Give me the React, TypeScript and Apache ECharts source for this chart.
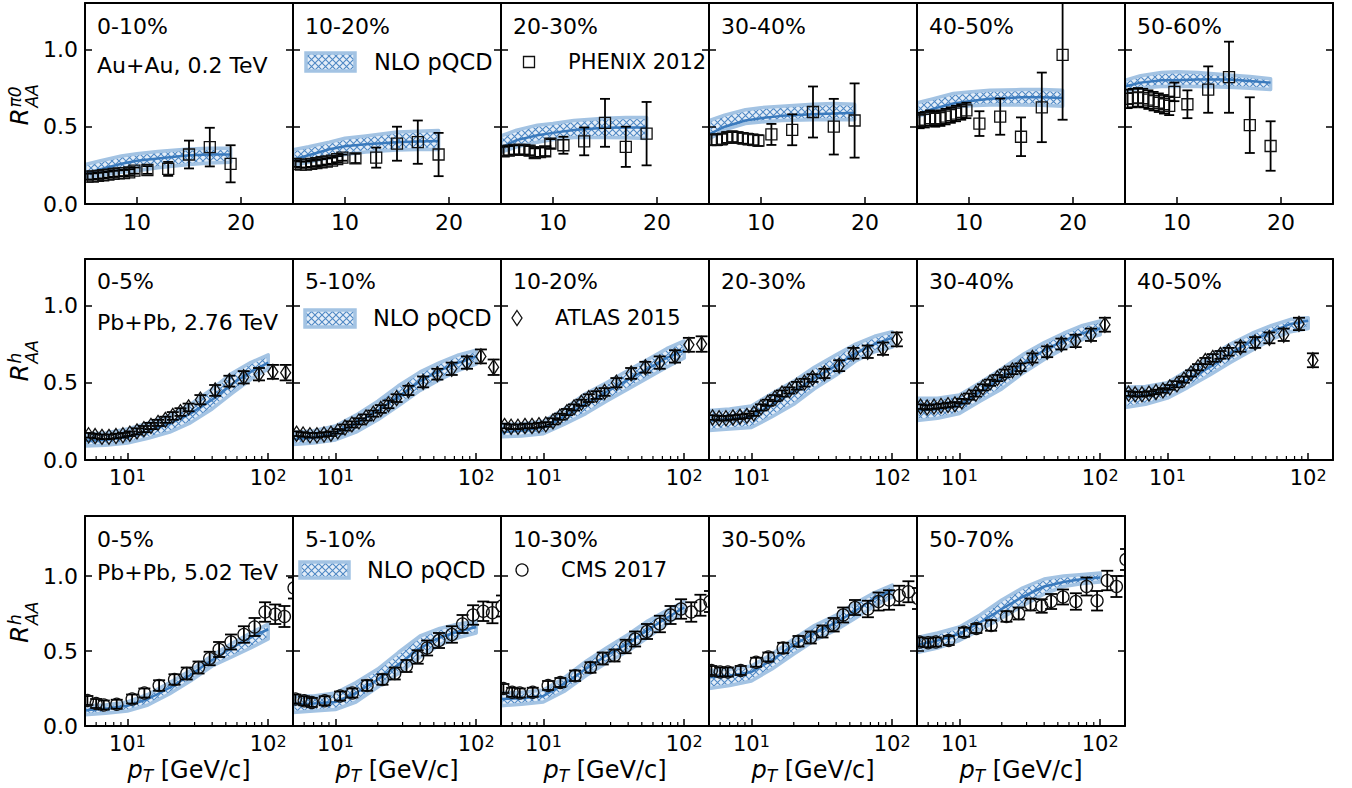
import React, { useEffect, useRef } from "react";
import * as echarts from "echarts";

const FONT = '"DejaVu Sans", "Liberation Sans", sans-serif';

// ================= Row 1 : Au+Au 0.2 TeV, PHENIX 2012 (pi0) =================
const rhicCentralities = ["0-10%", "10-20%", "20-30%", "30-40%", "40-50%", "50-60%"];
const rhicTickValues = [10, 20];
const phenixPt = [5.25, 5.75, 6.25, 6.75, 7.25, 7.75, 8.25, 8.75, 9.25, 9.75, 11, 13, 15, 17, 19];

const phenix_0_10 = [0.177, 0.178, 0.182, 0.186, 0.19, 0.195, 0.198, 0.2, 0.205, 0.216, 0.22, 0.227, 0.32, 0.368, 0.26];
const phenixErr_0_10 = [0.02, 0.02, 0.02, 0.02, 0.02, 0.02, 0.02, 0.02, 0.02, 0.02, 0.025, 0.045, 0.09, 0.125, 0.12];
const phenix_10_20 = [0.26, 0.255, 0.255, 0.26, 0.265, 0.27, 0.275, 0.28, 0.29, 0.3, 0.295, 0.3, 0.39, 0.4, 0.32];
const phenixErr_10_20 = [0.02, 0.02, 0.02, 0.02, 0.02, 0.02, 0.02, 0.02, 0.02, 0.02, 0.03, 0.065, 0.11, 0.14, 0.14];
const phenix_20_30 = [0.34, 0.345, 0.35, 0.35, 0.35, 0.345, 0.33, 0.335, 0.34, 0.39, 0.38, 0.405, 0.525, 0.37, 0.455];
const phenixErr_20_30 = [0.03, 0.03, 0.03, 0.03, 0.03, 0.03, 0.03, 0.03, 0.03, 0.03, 0.055, 0.09, 0.155, 0.13, 0.205];
const phenix_30_40 = [0.415, 0.415, 0.42, 0.43, 0.435, 0.43, 0.425, 0.42, 0.415, 0.41, 0.45, 0.48, 0.595, 0.5, 0.54];
const phenixErr_30_40 = [0.035, 0.035, 0.035, 0.035, 0.035, 0.035, 0.035, 0.035, 0.035, 0.035, 0.068, 0.1, 0.165, 0.18, 0.24];
const phenix_40_50 = [0.54, 0.545, 0.555, 0.55, 0.555, 0.565, 0.575, 0.585, 0.595, 0.605, 0.52, 0.565, 0.435, 0.625, 0.965];
const phenixErr_40_50 = [0.05, 0.05, 0.05, 0.05, 0.05, 0.05, 0.05, 0.05, 0.05, 0.05, 0.08, 0.117, 0.125, 0.225, 0.42];
const phenix_50_60 = [0.68, 0.685, 0.69, 0.685, 0.675, 0.665, 0.655, 0.645, 0.635, 0.725, 0.645, 0.74, 0.82, 0.51, 0.375];
const phenixErr_50_60 = [0.06, 0.06, 0.06, 0.06, 0.06, 0.06, 0.06, 0.06, 0.06, 0.06, 0.09, 0.15, 0.23, 0.18, 0.16];

const nloRhicPt = [5, 6.5, 8.5, 10, 12, 15, 17, 19];
const nloRhicUp_0_10 = [0.255, 0.28, 0.31, 0.325, 0.34, 0.355, 0.36, 0.36];
const nloRhicMid_0_10 = [0.195, 0.225, 0.26, 0.28, 0.295, 0.315, 0.32, 0.32];
const nloRhicLo_0_10 = [0.17, 0.185, 0.205, 0.215, 0.235, 0.255, 0.265, 0.27];
const nloRhicUp_10_20 = [0.35, 0.37, 0.4, 0.425, 0.44, 0.465, 0.47, 0.475];
const nloRhicMid_10_20 = [0.287, 0.315, 0.354, 0.374, 0.387, 0.4, 0.405, 0.407];
const nloRhicLo_10_20 = [0.25, 0.27, 0.3, 0.32, 0.337, 0.35, 0.352, 0.352];
const nloRhicUp_20_30 = [0.44, 0.478, 0.51, 0.52, 0.54, 0.554, 0.56, 0.56];
const nloRhicMid_20_30 = [0.365, 0.413, 0.445, 0.46, 0.478, 0.493, 0.495, 0.495];
const nloRhicLo_20_30 = [0.335, 0.37, 0.4, 0.417, 0.43, 0.43, 0.428, 0.424];
const nloRhicUp_30_40 = [0.54, 0.575, 0.61, 0.623, 0.632, 0.645, 0.65, 0.645];
const nloRhicMid_30_40 = [0.45, 0.5, 0.54, 0.555, 0.57, 0.58, 0.585, 0.59];
const nloRhicLo_30_40 = [0.42, 0.48, 0.52, 0.53, 0.54, 0.545, 0.545, 0.545];
const nloRhicUp_40_50 = [0.655, 0.68, 0.715, 0.725, 0.735, 0.74, 0.74, 0.735];
const nloRhicMid_40_50 = [0.58, 0.615, 0.65, 0.665, 0.68, 0.69, 0.69, 0.685];
const nloRhicLo_40_50 = [0.565, 0.595, 0.625, 0.635, 0.64, 0.64, 0.638, 0.632];
const nloRhicUp_50_60 = [0.8, 0.83, 0.85, 0.855, 0.85, 0.835, 0.825, 0.81];
const nloRhicMid_50_60 = [0.76, 0.785, 0.8, 0.8, 0.805, 0.805, 0.795, 0.785];
const nloRhicLo_50_60 = [0.73, 0.75, 0.76, 0.762, 0.76, 0.755, 0.748, 0.74];

// ================= Row 2 : Pb+Pb 2.76 TeV, ATLAS 2015 (h) =================
const lhc276Centralities = ["0-5%", "5-10%", "10-20%", "20-30%", "30-40%", "40-50%"];
const atlasPt = [5.3, 5.9, 6.6, 7.4, 8.3, 9.3, 10.4, 11.7, 13.1, 14.7, 16.5, 18.6, 21.0, 23.8, 27.2, 33, 42, 53, 67, 86, 108, 133];
const atlasErr = [0.015, 0.015, 0.015, 0.015, 0.015, 0.015, 0.015, 0.02, 0.02, 0.02, 0.02, 0.02, 0.025, 0.025, 0.025, 0.03, 0.035, 0.035, 0.04, 0.04, 0.045, 0.05];
const atlas_0_5 = [0.16, 0.155, 0.15, 0.15, 0.155, 0.16, 0.17, 0.185, 0.2, 0.22, 0.24, 0.26, 0.285, 0.31, 0.34, 0.39, 0.45, 0.51, 0.535, 0.555, 0.57, 0.565];
const atlas_5_10 = [0.17, 0.165, 0.16, 0.16, 0.165, 0.17, 0.185, 0.21, 0.23, 0.25, 0.275, 0.3, 0.33, 0.36, 0.4, 0.45, 0.505, 0.555, 0.59, 0.63, 0.67, 0.6];
const atlas_10_20 = [0.22, 0.215, 0.215, 0.22, 0.22, 0.225, 0.23, 0.25, 0.28, 0.31, 0.34, 0.37, 0.4, 0.42, 0.44, 0.5, 0.56, 0.6, 0.63, 0.67, 0.745, 0.75];
const atlas_20_30 = [0.275, 0.27, 0.27, 0.275, 0.28, 0.285, 0.3, 0.34, 0.37, 0.4, 0.43, 0.45, 0.48, 0.5, 0.53, 0.56, 0.61, 0.69, 0.7, 0.72, 0.78];
const atlas_30_40 = [0.345, 0.34, 0.345, 0.35, 0.355, 0.36, 0.38, 0.41, 0.43, 0.47, 0.5, 0.53, 0.56, 0.58, 0.6, 0.66, 0.7, 0.75, 0.77, 0.81, 0.875];
const atlas_40_50 = [0.43, 0.425, 0.425, 0.43, 0.44, 0.45, 0.47, 0.49, 0.52, 0.56, 0.6, 0.64, 0.66, 0.68, 0.7, 0.73, 0.76, 0.79, 0.81, 0.88, 0.645];

const nloLhcPt = [5, 7, 10, 14, 20, 28, 40, 55, 75, 100];
const nlo276Up_0_5 = [0.17, 0.175, 0.2, 0.24, 0.29, 0.36, 0.46, 0.56, 0.63, 0.68];
const nlo276Mid_0_5 = [0.125, 0.13, 0.15, 0.185, 0.235, 0.3, 0.39, 0.49, 0.57, 0.63];
const nlo276Lo_0_5 = [0.09, 0.095, 0.11, 0.14, 0.18, 0.24, 0.33, 0.43, 0.52, 0.59];
const nlo276Up_5_10 = [0.18, 0.19, 0.22, 0.29, 0.38, 0.48, 0.57, 0.63, 0.68, 0.71];
const nlo276Mid_5_10 = [0.135, 0.145, 0.175, 0.235, 0.32, 0.41, 0.51, 0.58, 0.63, 0.67];
const nlo276Lo_5_10 = [0.1, 0.11, 0.13, 0.18, 0.26, 0.35, 0.45, 0.52, 0.58, 0.62];
const nlo276Up_10_20 = [0.23, 0.235, 0.25, 0.33, 0.43, 0.5, 0.58, 0.65, 0.72, 0.77];
const nlo276Mid_10_20 = [0.18, 0.19, 0.21, 0.28, 0.365, 0.44, 0.52, 0.59, 0.66, 0.71];
const nlo276Lo_10_20 = [0.15, 0.155, 0.17, 0.23, 0.3, 0.38, 0.46, 0.53, 0.6, 0.66];
const nlo276Up_20_30 = [0.32, 0.33, 0.35, 0.43, 0.51, 0.6, 0.68, 0.75, 0.8, 0.83];
const nlo276Mid_20_30 = [0.255, 0.265, 0.28, 0.36, 0.44, 0.53, 0.61, 0.69, 0.75, 0.79];
const nlo276Lo_20_30 = [0.19, 0.2, 0.21, 0.28, 0.36, 0.46, 0.55, 0.64, 0.7, 0.73];
const nlo276Up_30_40 = [0.4, 0.4, 0.42, 0.5, 0.59, 0.68, 0.76, 0.82, 0.87, 0.9];
const nlo276Mid_30_40 = [0.32, 0.33, 0.35, 0.44, 0.53, 0.62, 0.71, 0.77, 0.82, 0.85];
const nlo276Lo_30_40 = [0.255, 0.27, 0.3, 0.38, 0.46, 0.56, 0.65, 0.72, 0.78, 0.81];
const nlo276Up_40_50 = [0.47, 0.475, 0.5, 0.58, 0.67, 0.75, 0.82, 0.87, 0.91, 0.92];
const nlo276Mid_40_50 = [0.41, 0.42, 0.45, 0.52, 0.6, 0.69, 0.77, 0.83, 0.88, 0.9];
const nlo276Lo_40_50 = [0.34, 0.36, 0.4, 0.47, 0.55, 0.63, 0.71, 0.78, 0.83, 0.85];

// ================= Row 3 : Pb+Pb 5.02 TeV, CMS 2017 (h) =================
const lhc502Centralities = ["0-5%", "5-10%", "10-30%", "30-50%", "50-70%"];
const cmsPt = [5.2, 6.0, 6.8, 8.4, 10.8, 13.2, 16.8, 21.6, 26.4, 32.0, 38.4, 44.8, 54.4, 67.2, 80.0, 95.0, 112.2, 130.4, 152.5];
const cmsErr = [0.03, 0.03, 0.03, 0.03, 0.03, 0.03, 0.035, 0.035, 0.04, 0.04, 0.045, 0.05, 0.05, 0.055, 0.06, 0.065, 0.065, 0.07, 0.07];
const cms_0_5 = [0.17, 0.15, 0.14, 0.145, 0.18, 0.22, 0.27, 0.31, 0.35, 0.39, 0.45, 0.51, 0.56, 0.61, 0.66, 0.76, 0.745, 0.73, 0.92];
const cms_5_10 = [0.18, 0.168, 0.157, 0.168, 0.2, 0.22, 0.27, 0.31, 0.35, 0.4, 0.46, 0.52, 0.57, 0.61, 0.68, 0.74, 0.765, 0.755, 0.8];
const cms_10_30 = [0.25, 0.225, 0.22, 0.225, 0.27, 0.29, 0.335, 0.39, 0.45, 0.47, 0.53, 0.58, 0.63, 0.68, 0.74, 0.78, 0.76, 0.805, 0.83];
const cms_30_50 = [0.37, 0.36, 0.36, 0.37, 0.425, 0.46, 0.52, 0.565, 0.59, 0.63, 0.675, 0.74, 0.79, 0.78, 0.83, 0.84, 0.87, 0.895, 0.85];
const cms_50_70 = [0.56, 0.555, 0.56, 0.57, 0.625, 0.65, 0.67, 0.73, 0.75, 0.81, 0.8, 0.83, 0.86, 0.83, 0.93, 0.835, 0.97, 0.93, 1.11];

const nlo502Up_0_5 = [0.135, 0.14, 0.16, 0.21, 0.29, 0.37, 0.47, 0.55, 0.62, 0.68];
const nlo502Mid_0_5 = [0.105, 0.115, 0.135, 0.18, 0.255, 0.34, 0.44, 0.52, 0.59, 0.645];
const nlo502Lo_0_5 = [0.075, 0.085, 0.1, 0.14, 0.215, 0.3, 0.4, 0.46, 0.52, 0.58];
const nlo502Up_5_10 = [0.2, 0.2, 0.22, 0.29, 0.38, 0.49, 0.6, 0.65, 0.68, 0.7];
const nlo502Mid_5_10 = [0.145, 0.15, 0.16, 0.22, 0.31, 0.41, 0.52, 0.59, 0.63, 0.66];
const nlo502Lo_5_10 = [0.09, 0.1, 0.11, 0.16, 0.26, 0.35, 0.46, 0.54, 0.59, 0.62];
const nlo502Up_10_30 = [0.22, 0.225, 0.24, 0.32, 0.43, 0.52, 0.61, 0.7, 0.77, 0.83];
const nlo502Mid_10_30 = [0.18, 0.185, 0.2, 0.28, 0.38, 0.47, 0.55, 0.64, 0.72, 0.79];
const nlo502Lo_10_30 = [0.135, 0.145, 0.16, 0.23, 0.335, 0.42, 0.5, 0.59, 0.68, 0.76];
const nlo502Up_30_50 = [0.37, 0.38, 0.4, 0.48, 0.58, 0.67, 0.74, 0.82, 0.89, 0.94];
const nlo502Mid_30_50 = [0.325, 0.335, 0.36, 0.44, 0.54, 0.62, 0.69, 0.77, 0.85, 0.905];
const nlo502Lo_30_50 = [0.25, 0.27, 0.3, 0.38, 0.48, 0.57, 0.64, 0.72, 0.8, 0.86];
const nlo502Up_50_70 = [0.59, 0.62, 0.66, 0.74, 0.84, 0.92, 0.98, 1.0, 1.01, 1.02];
const nlo502Mid_50_70 = [0.54, 0.57, 0.615, 0.69, 0.78, 0.86, 0.93, 0.96, 0.98, 0.99];
const nlo502Lo_50_70 = [0.49, 0.52, 0.57, 0.64, 0.72, 0.8, 0.88, 0.93, 0.95, 0.96];

const logMinorTicks = [6, 7, 8, 9, 20, 30, 40, 50, 60, 70, 80, 90];

// ================= layout =================
const COL_LEFT0 = 85;
const COL_W = 208;
const ROWS = [
  { top: 3, height: 201, ymax: 1.3, sys: "Au+Au, 0.2 TeV", sup: "\u03c00", labelY: 26, sysY: 65, legendY: 62, x: [5, 25] },
  { top: 259, height: 201, ymax: 1.3, sys: "Pb+Pb, 2.76 TeV", sup: "h", labelY: 281, sysY: 322, legendY: 318, x: [5, 150] },
  { top: 516, height: 210, ymax: 1.4, sys: "Pb+Pb, 5.02 TeV", sup: "h", labelY: 539, sysY: 572, legendY: 570, x: [5, 150] },
];

const LINE_COLOR = "#3a7abd";
const EDGE_COLOR = "#a3c3e3";
const HATCH_COLOR = "#4f88c4";

type Panel = {
  row: number; col: number; cent: string;
  bx: number[]; up: number[]; mid: number[]; lo: number[];
  px: number[]; py: number[]; pe: number[]; marker: string;
};

const panels: Panel[] = [
  { row: 0, col: 0, cent: rhicCentralities[0], bx: nloRhicPt, up: nloRhicUp_0_10, mid: nloRhicMid_0_10, lo: nloRhicLo_0_10, px: phenixPt, py: phenix_0_10, pe: phenixErr_0_10, marker: "square" },
  { row: 0, col: 1, cent: rhicCentralities[1], bx: nloRhicPt, up: nloRhicUp_10_20, mid: nloRhicMid_10_20, lo: nloRhicLo_10_20, px: phenixPt, py: phenix_10_20, pe: phenixErr_10_20, marker: "square" },
  { row: 0, col: 2, cent: rhicCentralities[2], bx: nloRhicPt, up: nloRhicUp_20_30, mid: nloRhicMid_20_30, lo: nloRhicLo_20_30, px: phenixPt, py: phenix_20_30, pe: phenixErr_20_30, marker: "square" },
  { row: 0, col: 3, cent: rhicCentralities[3], bx: nloRhicPt, up: nloRhicUp_30_40, mid: nloRhicMid_30_40, lo: nloRhicLo_30_40, px: phenixPt, py: phenix_30_40, pe: phenixErr_30_40, marker: "square" },
  { row: 0, col: 4, cent: rhicCentralities[4], bx: nloRhicPt, up: nloRhicUp_40_50, mid: nloRhicMid_40_50, lo: nloRhicLo_40_50, px: phenixPt, py: phenix_40_50, pe: phenixErr_40_50, marker: "square" },
  { row: 0, col: 5, cent: rhicCentralities[5], bx: nloRhicPt, up: nloRhicUp_50_60, mid: nloRhicMid_50_60, lo: nloRhicLo_50_60, px: phenixPt, py: phenix_50_60, pe: phenixErr_50_60, marker: "square" },

  { row: 1, col: 0, cent: lhc276Centralities[0], bx: nloLhcPt, up: nlo276Up_0_5, mid: nlo276Mid_0_5, lo: nlo276Lo_0_5, px: atlasPt, py: atlas_0_5, pe: atlasErr, marker: "diamond" },
  { row: 1, col: 1, cent: lhc276Centralities[1], bx: nloLhcPt, up: nlo276Up_5_10, mid: nlo276Mid_5_10, lo: nlo276Lo_5_10, px: atlasPt, py: atlas_5_10, pe: atlasErr, marker: "diamond" },
  { row: 1, col: 2, cent: lhc276Centralities[2], bx: nloLhcPt, up: nlo276Up_10_20, mid: nlo276Mid_10_20, lo: nlo276Lo_10_20, px: atlasPt, py: atlas_10_20, pe: atlasErr, marker: "diamond" },
  { row: 1, col: 3, cent: lhc276Centralities[3], bx: nloLhcPt, up: nlo276Up_20_30, mid: nlo276Mid_20_30, lo: nlo276Lo_20_30, px: atlasPt, py: atlas_20_30, pe: atlasErr, marker: "diamond" },
  { row: 1, col: 4, cent: lhc276Centralities[4], bx: nloLhcPt, up: nlo276Up_30_40, mid: nlo276Mid_30_40, lo: nlo276Lo_30_40, px: atlasPt, py: atlas_30_40, pe: atlasErr, marker: "diamond" },
  { row: 1, col: 5, cent: lhc276Centralities[5], bx: nloLhcPt, up: nlo276Up_40_50, mid: nlo276Mid_40_50, lo: nlo276Lo_40_50, px: atlasPt, py: atlas_40_50, pe: atlasErr, marker: "diamond" },

  { row: 2, col: 0, cent: lhc502Centralities[0], bx: nloLhcPt, up: nlo502Up_0_5, mid: nlo502Mid_0_5, lo: nlo502Lo_0_5, px: cmsPt, py: cms_0_5, pe: cmsErr, marker: "circle" },
  { row: 2, col: 1, cent: lhc502Centralities[1], bx: nloLhcPt, up: nlo502Up_5_10, mid: nlo502Mid_5_10, lo: nlo502Lo_5_10, px: cmsPt, py: cms_5_10, pe: cmsErr, marker: "circle" },
  { row: 2, col: 2, cent: lhc502Centralities[2], bx: nloLhcPt, up: nlo502Up_10_30, mid: nlo502Mid_10_30, lo: nlo502Lo_10_30, px: cmsPt, py: cms_10_30, pe: cmsErr, marker: "circle" },
  { row: 2, col: 3, cent: lhc502Centralities[3], bx: nloLhcPt, up: nlo502Up_30_50, mid: nlo502Mid_30_50, lo: nlo502Lo_30_50, px: cmsPt, py: cms_30_50, pe: cmsErr, marker: "circle" },
  { row: 2, col: 4, cent: lhc502Centralities[4], bx: nloLhcPt, up: nlo502Up_50_70, mid: nlo502Mid_50_70, lo: nlo502Lo_50_70, px: cmsPt, py: cms_50_70, pe: cmsErr, marker: "circle" },
];

function makeHatch(): any {
  const s = 7;
  const c = document.createElement("canvas");
  c.width = s; c.height = s;
  const g = c.getContext("2d")!;
  g.fillStyle = "rgba(185,210,238,0.4)";
  g.fillRect(0, 0, s, s);
  g.strokeStyle = HATCH_COLOR;
  g.lineWidth = 1.1;
  g.beginPath();
  g.moveTo(0, 0); g.lineTo(s, s);
  g.moveTo(s, 0); g.lineTo(0, s);
  g.stroke();
  return { image: c, repeat: "repeat", imageWidth: s, imageHeight: s };
}

function markerShape(marker: string, cx: number, cy: number, style: any) {
  if (marker === "square") return { type: "rect", shape: { x: cx - 5.5, y: cy - 5.5, width: 11, height: 11 }, style };
  if (marker === "diamond") return { type: "polygon", shape: { points: [[cx, cy - 7.5], [cx + 5, cy], [cx, cy + 7.5], [cx - 5, cy]] }, style };
  return { type: "circle", shape: { cx, cy, r: 6 }, style };
}

function buildOption(hatch: any) {
  const grid: any[] = [];
  const xAxis: any[] = [];
  const yAxis: any[] = [];
  const series: any[] = [];
  const graphic: any[] = [];

  const lineAx = { show: true, onZero: false, lineStyle: { color: "#000", width: 2 } };

  panels.forEach((p, i) => {
    const R = ROWS[p.row];
    const left = COL_LEFT0 + p.col * COL_W;
    const isLog = p.row > 0;
    grid.push({ left, top: R.top, width: COL_W, height: R.height, show: false });

    const xType = isLog ? "log" : "value";
    const xi = xAxis.length;
    const xLabelFmt = isLog
      ? (v: number) => {
          const e = Math.log10(v);
          return Math.abs(e - Math.round(e)) < 1e-6 ? "10{s|" + Math.round(e) + "}" : "";
        }
      : (v: number) => (rhicTickValues.indexOf(v) >= 0 ? String(v) : "");
    const mainX: any = {
      gridIndex: i, type: xType, logBase: 10, min: R.x[0], max: R.x[1], position: "bottom", z: 10,
      axisLine: lineAx,
      axisTick: { show: true, inside: true, length: 7, lineStyle: { color: "#000", width: 1.5 } },
      axisLabel: {
        show: true, margin: 7, color: "#000", fontFamily: FONT, fontSize: isLog ? 21 : 22,
        formatter: xLabelFmt,
        rich: { s: { fontSize: 16, fontFamily: FONT, color: "#000", verticalAlign: "top", lineHeight: 12 } },
      },
      splitLine: { show: false },
    };
    if (!isLog) {
      mainX.axisTick.customValues = rhicTickValues;
      mainX.axisLabel.customValues = rhicTickValues;
    }
    if (p.row === 2) {
      mainX.name = "{i|p}{s|T} [GeV/c]";
      mainX.nameLocation = "middle";
      mainX.nameGap = 25;
      mainX.nameTextStyle = {
        fontSize: 24, fontFamily: FONT, color: "#000", lineHeight: 30,
        rich: {
          i: { fontSize: 24, fontFamily: FONT, fontStyle: "italic", color: "#000", lineHeight: 30 },
          s: { fontSize: 17, fontFamily: FONT, fontStyle: "italic", color: "#000", verticalAlign: "bottom", lineHeight: 16 },
        },
      };
    }
    xAxis.push(mainX);
    xAxis.push({
      gridIndex: i, type: xType, logBase: 10, min: R.x[0], max: R.x[1], position: "top", z: 10,
      axisLine: lineAx, axisTick: { show: false }, axisLabel: { show: false }, splitLine: { show: false },
    });

    const yi = yAxis.length;
    const yFmt = (v: number) => (Math.abs(v * 2 - Math.round(v * 2)) < 1e-6 ? v.toFixed(1) : "");
    yAxis.push({
      gridIndex: i, type: "value", min: 0, max: R.ymax, interval: 0.5, position: "left", z: 10,
      axisLine: lineAx,
      axisTick: { show: true, inside: true, length: 7, lineStyle: { color: "#000", width: 1.5 } },
      axisLabel: { show: p.col === 0, margin: 7, color: "#000", fontFamily: FONT, fontSize: 22, formatter: yFmt },
      splitLine: { show: false },
    });
    yAxis.push({
      gridIndex: i, type: "value", min: 0, max: R.ymax, interval: 0.5, position: "right", z: 10,
      axisLine: lineAx,
      axisTick: { show: true, inside: true, length: 7, lineStyle: { color: "#000", width: 1.5 } },
      axisLabel: { show: false }, splitLine: { show: false },
    });

    // NLO band
    series.push({
      type: "custom", xAxisIndex: xi, yAxisIndex: yi, clip: true, silent: true, z: 2,
      data: [[p.bx[0], p.mid[0]]],
      renderItem: (params: any, api: any) => {
        const pts: number[][] = [];
        for (let k = 0; k < p.bx.length; k++) pts.push(api.coord([p.bx[k], p.up[k]]));
        for (let k = p.bx.length - 1; k >= 0; k--) pts.push(api.coord([p.bx[k], p.lo[k]]));
        return {
          type: "polygon", shape: { points: pts },
          style: { fill: hatch, stroke: EDGE_COLOR, lineWidth: 3.5, lineJoin: "round" },
        };
      },
    });
    // NLO central line
    series.push({
      type: "line", xAxisIndex: xi, yAxisIndex: yi, z: 3, silent: true, showSymbol: false, symbol: "none",
      data: p.bx.map((x, k) => [x, p.mid[k]]),
      lineStyle: { color: LINE_COLOR, width: 2.5 },
    });
    // data points with error bars
    const n = Math.min(p.px.length, p.py.length);
    const rows: number[][] = [];
    for (let k = 0; k < n; k++) rows.push([p.px[k], p.py[k], p.py[k] - p.pe[k], p.py[k] + p.pe[k]]);
    const cap = p.row === 0 ? 5 : 6;
    series.push({
      type: "custom", xAxisIndex: xi, yAxisIndex: yi, clip: true, silent: true, z: 4,
      data: rows,
      renderItem: (params: any, api: any) => {
        const x = api.value(0), y = api.value(1), lo = api.value(2), hi = api.value(3);
        const c = api.coord([x, y]);
        const a = api.coord([x, hi]);
        const b = api.coord([x, lo]);
        const ls = { stroke: "#000", lineWidth: 1.8, fill: "none" };
        const ms = { stroke: "#111", lineWidth: 1.3, fill: "none" };
        return {
          type: "group",
          children: [
            { type: "line", shape: { x1: c[0], y1: a[1], x2: c[0], y2: b[1] }, style: ls },
            { type: "line", shape: { x1: c[0] - cap, y1: a[1], x2: c[0] + cap, y2: a[1] }, style: ls },
            { type: "line", shape: { x1: c[0] - cap, y1: b[1], x2: c[0] + cap, y2: b[1] }, style: ls },
            markerShape(p.marker, c[0], c[1], ms),
          ],
        };
      },
    });
    // log minor ticks
    if (isLog) {
      series.push({
        type: "custom", xAxisIndex: xi, yAxisIndex: yi, clip: false, silent: true, z: 11,
        data: logMinorTicks.map((v) => [v, 0]),
        renderItem: (params: any, api: any) => {
          const c = api.coord([api.value(0), 0]);
          return { type: "line", shape: { x1: c[0], y1: c[1], x2: c[0], y2: c[1] - 4 }, style: { stroke: "#000", lineWidth: 1.2 } };
        },
      });
    }

    // centrality label
    graphic.push({
      type: "text", x: left + 12, y: R.labelY, z: 20,
      style: { text: p.cent, fontFamily: FONT, fontSize: 22, fill: "#000", verticalAlign: "middle", align: "left" },
    });
    if (p.col === 0) {
      graphic.push({
        type: "text", x: left + 12, y: R.sysY, z: 20,
        style: { text: R.sys, fontFamily: FONT, fontSize: 22, fill: "#000", verticalAlign: "middle", align: "left" },
      });
    }
  });

  // y-axis titles (rotated)
  ROWS.forEach((R) => {
    const cy = R.top + R.height / 2;
    graphic.push({
      type: "group", x: 19, y: cy + 22, rotation: Math.PI / 2, z: 20,
      children: [
        { type: "text", x: 0, y: 0, style: { text: "R", fontFamily: FONT, fontSize: 25, fontStyle: "italic", fill: "#000", verticalAlign: "middle", align: "left" } },
        { type: "text", x: 18, y: -4, style: { text: R.sup, fontFamily: FONT, fontSize: 17, fontStyle: "italic", fill: "#000", verticalAlign: "middle", align: "left" } },
        { type: "text", x: 18, y: 13, style: { text: "AA", fontFamily: FONT, fontSize: 17, fontStyle: "italic", fill: "#000", verticalAlign: "middle", align: "left" } },
      ],
    });
  });

  // legends
  const legendPatch = [
    { x: 306, y: 53, w: 49, h: 18, tx: 374, ty: ROWS[0].legendY },
    { x: 305, y: 310, w: 50, h: 17, tx: 373, ty: ROWS[1].legendY },
    { x: 300, y: 562, w: 49, h: 16, tx: 367, ty: ROWS[2].legendY },
  ];
  legendPatch.forEach((l) => {
    graphic.push({ type: "rect", shape: { x: l.x, y: l.y, width: l.w, height: l.h }, z: 20, style: { fill: hatch, stroke: EDGE_COLOR, lineWidth: 3.5 } });
    graphic.push({ type: "text", x: l.tx, y: l.ty, z: 20, style: { text: "NLO pQCD", fontFamily: FONT, fontSize: 22.5, fill: "#000", verticalAlign: "middle", align: "left" } });
  });
  const legendData = [
    { marker: "square", mx: 529, tx: 568, ty: ROWS[0].legendY, text: "PHENIX 2012" },
    { marker: "diamond", mx: 517, tx: 555, ty: ROWS[1].legendY, text: "ATLAS 2015" },
    { marker: "circle", mx: 522, tx: 561, ty: ROWS[2].legendY, text: "CMS 2017" },
  ];
  legendData.forEach((l) => {
    const m: any = markerShape(l.marker, l.mx, l.ty, { stroke: "#111", lineWidth: 1.3, fill: "none" });
    m.z = 20;
    graphic.push(m);
    graphic.push({ type: "text", x: l.tx, y: l.ty, z: 20, style: { text: l.text, fontFamily: FONT, fontSize: 21, fill: "#000", verticalAlign: "middle", align: "left" } });
  });

  return {
    animation: false,
    backgroundColor: "#fff",
    textStyle: { fontFamily: FONT },
    grid, xAxis, yAxis, series, graphic,
  };
}

export default function App() {
  const ref = useRef<HTMLDivElement>(null);
  useEffect(() => {
    if (!ref.current) return;
    const chart = echarts.init(ref.current, null, { renderer: "svg" });
    chart.setOption(buildOption(makeHatch()) as any);
    return () => chart.dispose();
  }, []);
  return <div ref={ref} style={{ position: "fixed", left: 0, top: 0, width: 1352, height: 788, background: "#fff" }} />;
}
